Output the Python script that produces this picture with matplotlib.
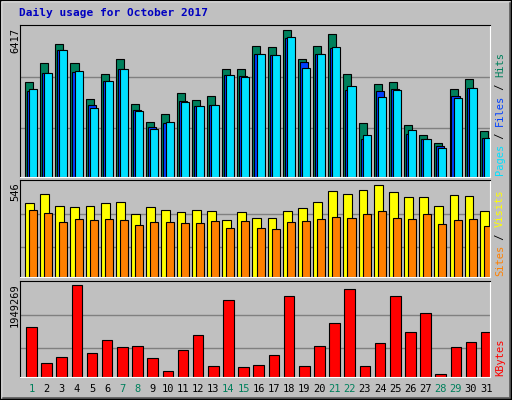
import numpy as np
import matplotlib
matplotlib.use("Agg")
import matplotlib.pyplot as plt

days = list(range(1, 32))
weekend = [1, 7, 8, 14, 15, 21, 22, 28, 29]

hits = [4153, 4980, 5808, 4980, 3412, 4501, 5155, 3194, 2410, 2759, 3674, 3369, 3543, 4719, 4719, 5721,
        5677, 6417, 5155, 5721, 6244, 4501, 2367, 4066, 4153, 2280, 1844, 1496, 3848, 4283, 2018]
files = [3761, 4545, 5547, 4588, 3151, 4196, 4719, 2933, 2193, 2367, 3325, 3107, 3151, 4458, 4414, 5372,
         5329, 6069, 5024, 5372, 5634, 3804, 1670, 3761, 3848, 1888, 1670, 1365, 3543, 3891, 1713]
pages = [3848, 4545, 5547, 4632, 3020, 4196, 4719, 2889, 2105, 2410, 3281, 3107, 3151, 4458, 4371, 5372,
         5329, 6113, 4763, 5372, 5677, 3978, 1844, 3499, 3804, 2062, 1670, 1278, 3456, 3891, 1713]
visits = [439, 493, 421, 415, 421, 439, 445, 374, 415, 398, 386, 398, 392, 338, 386, 350,
          350, 392, 409, 445, 510, 493, 516, 546, 504, 475, 475, 421, 487, 481, 392]
sites = [398, 380, 326, 344, 338, 344, 338, 309, 326, 326, 320, 320, 332, 291, 332, 291,
         285, 326, 332, 344, 356, 350, 374, 392, 350, 344, 374, 315, 338, 344, 303]
kbytes = [1070000, 305000, 432000, 1949269, 517000, 794000, 645000, 666000, 411000, 135000, 581000,
          900000, 241000, 1644000, 220000, 262000, 475000, 1730000, 241000, 666000, 1155000, 1878000,
          241000, 730000, 1730000, 964000, 1368000, 71000, 645000, 751000, 964000]

W, H = 512, 400
fig = plt.figure(figsize=(W / 100, H / 100), dpi=100)
fig.patch.set_facecolor("#C0C0C0")
mono = "DejaVu Sans Mono"

# bevel border
bg = fig.add_axes([0, 0, 1, 1])
bg.set_xlim(0, W); bg.set_ylim(H, 0); bg.axis("off")
bg.plot([1, W - 2, W - 2], [H - 2, H - 2, 1], color="#606060", lw=2)
bg.plot([1, 1, W - 2], [H - 2, 1, 1], color="white", lw=1)
bg.plot([0, W - 1, W - 1, 0, 0], [0, 0, H - 1, H - 1, 0], color="black", lw=1)

fig.text(19 / W, 1 - 13 / H, "Daily usage for October 2017", color="#0000C0",
         fontsize=8, fontweight="bold", family=mono, va="center")

x0, x1 = 20, 490
x = np.arange(31)


def panel(top, bottom, vmax, maxpx, grids):
    ax = fig.add_axes([x0 / W, 1 - bottom / H, (x1 - x0) / W, (bottom - top) / H])
    ax.set_facecolor("#C0C0C0")
    ax.set_xlim(0, 31)
    ax.set_ylim(0, vmax * (bottom - top) / maxpx)
    for g in grids:
        ax.axhline(ax.get_ylim()[1] * g, color="#808080", lw=1, zorder=0)
    ax.set_xticks([]); ax.set_yticks([])
    for s in ["top", "left"]:
        ax.spines[s].set_color("black")
    for s in ["bottom", "right"]:
        ax.spines[s].set_color("white")
    return ax


ax1 = panel(25, 177, 6417, 147.3, [0.325, 0.66])
ax1.bar(x + 0.33, hits, width=0.53, align="edge", color="#00805C", edgecolor="black", lw=0.8)
ax1.bar(x + 0.46, files, width=0.53, align="edge", color="#0040FF", edgecolor="black", lw=0.8)
ax1.bar(x + 0.6, pages, width=0.53, align="edge", color="#00E0FF", edgecolor="black", lw=0.8)

ax2 = panel(180, 277, 546, 92, [0.31, 0.65])
ax2.bar(x + 0.33, visits, width=0.58, align="edge", color="#FFFF00", edgecolor="black", lw=0.8)
ax2.bar(x + 0.6, sites, width=0.53, align="edge", color="#FF8000", edgecolor="black", lw=0.8)

ax3 = panel(281, 377, 1949269, 91.7, [0.30, 0.65])
ax3.bar(x + 0.4, kbytes, width=0.7, align="edge", color="#FF0000", edgecolor="black", lw=0.8)

# left max labels
for txt, y in [("6417", 28), ("546", 182), ("1949269", 283)]:
    fig.text(15 / W, 1 - y / H, txt, rotation=90, fontsize=7.5, family=mono,
             va="top", ha="center", color="black")

# right legend labels (stacked bottom-to-top)
def right_label(parts, ybottom):
    y = ybottom
    for txt, col in parts:
        t = fig.text(500 / W, 1 - y / H, txt, rotation=90, fontsize=7.5, family=mono,
                     va="bottom", ha="center", color=col)
        y -= len(txt) * 6.1


right_label([("Pages", "#00E0FF"), (" / ", "black"), ("Files", "#0040FF"),
             (" / ", "black"), ("Hits", "#00805C")], 175)
right_label([("Sites", "#FF8000"), (" / ", "black"), ("Visits", "#FFFF00")], 276)
right_label([("KBytes", "#FF0000")], 376)

for d in days:
    xp = x0 + (d - 1 + 0.75) * (x1 - x0) / 31
    fig.text(xp / W, 1 - 389 / H, str(d), fontsize=7.5, family=mono, ha="center", va="center",
             color="#00805C" if d in weekend else "black")

fig.savefig("out.png", dpi=100, facecolor=fig.get_facecolor())
